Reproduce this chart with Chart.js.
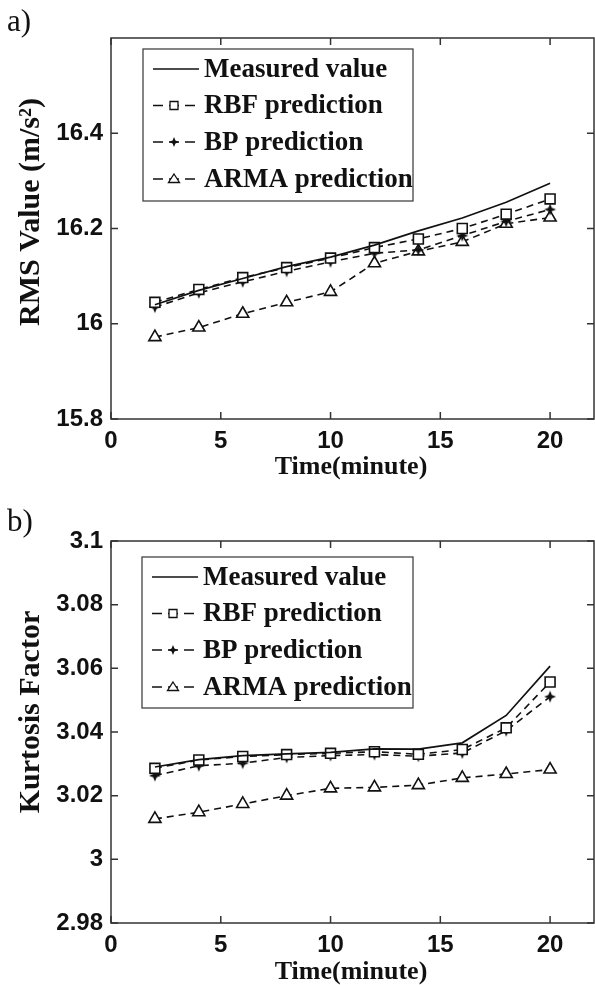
<!DOCTYPE html>
<html>
<head>
<meta charset="utf-8"/>
<title>RMS and kurtosis prediction</title>
<style>
    html, body { margin: 0; padding: 0; background: #fff; overflow: hidden; }
    .panel { position: absolute; left: 0; }
    .tag { position: absolute; left: 7px; font-family: "Liberation Serif", "Times New Roman", serif; font-size: 31px; color: #111; }
</style>
<script src="https://cdn.jsdelivr.net/npm/chart.js@4.4.1/dist/chart.umd.min.js"></script>
</head>
<body>
<canvas id="chartA" class="panel" style="top:0" width="595" height="490"></canvas>
<canvas id="chartB" class="panel" style="top:490px" width="595" height="495"></canvas>
<div class="tag" style="top:3px">a)</div>
<div class="tag" style="top:503px">b)</div>
<script>
    // time axis (minutes)
    const times = [2, 4, 6, 8, 10, 12, 14, 16, 18, 20];
    const xTicks = [0, 5, 10, 15, 20];

    // a) RMS value
    const rmsMeasured = [16.04, 16.07, 16.095, 16.12, 16.14, 16.165, 16.195, 16.222, 16.255, 16.295];
    const rmsRBF      = [16.045, 16.072, 16.097, 16.118, 16.138, 16.16, 16.178, 16.2, 16.23, 16.262];
    const rmsBP       = [16.035, 16.065, 16.088, 16.11, 16.13, 16.148, 16.155, 16.185, 16.215, 16.24];
    const rmsARMA     = [15.972, 15.992, 16.021, 16.045, 16.067, 16.127, 16.152, 16.172, 16.21, 16.223];
    const rmsTicks = [15.8, 16, 16.2, 16.4];

    // b) kurtosis factor
    const kurMeasured = [3.029, 3.0313, 3.0326, 3.0331, 3.0336, 3.0347, 3.0346, 3.0366, 3.0452, 3.0607];
    const kurRBF      = [3.0286, 3.0312, 3.0323, 3.0329, 3.0333, 3.0338, 3.033, 3.0345, 3.0413, 3.0557];
    const kurBP       = [3.0263, 3.0294, 3.0302, 3.032, 3.0326, 3.0329, 3.0324, 3.0334, 3.0404, 3.0511];
    const kurARMA     = [3.0127, 3.0148, 3.0174, 3.02, 3.0223, 3.0226, 3.0233, 3.0256, 3.0268, 3.0282];
    const kurTicks = [2.98, 3, 3.02, 3.04, 3.06, 3.08, 3.1];

    const labels = ['Measured value', 'RBF prediction', 'BP prediction', 'ARMA prediction'];

    const INK = '#111';
    const SERIF = '"Liberation Serif", "Times New Roman", serif';
    const SANS = '"Liberation Sans", Arial, sans-serif';

    // small filled four-point star for the BP marker
    function starImg(r) {
        const c = document.createElement('canvas');
        const s = Math.ceil(2 * r + 2);
        c.width = c.height = s;
        const g = c.getContext('2d');
        g.fillStyle = INK;
        g.beginPath();
        for (let k = 0; k < 8; k++) {
            const ang = k * Math.PI / 4 - Math.PI / 2;
            const rr = k % 2 === 0 ? r : r * 0.4;
            g.lineTo(s / 2 + rr * Math.cos(ang), s / 2 + rr * Math.sin(ang));
        }
        g.closePath();
        g.fill();
        return c;
    }
    const bpStar = starImg(6);
    const bpStarSmall = starImg(5);

    function pts(vals) {
        return vals.map((v, i) => ({ x: times[i], y: v }));
    }

    function makeSets(m, rbf, bp, arma) {
        const dash = [7, 5];
        return [
            { label: labels[0], data: pts(m), borderColor: INK, borderWidth: 1.7, pointRadius: 0 },
            { label: labels[1], data: pts(rbf), borderColor: INK, borderWidth: 1.6, borderDash: dash,
              pointStyle: 'rect', pointRadius: 7, pointBorderWidth: 1.6, pointBackgroundColor: '#fff', pointBorderColor: INK },
            { label: labels[2], data: pts(bp), borderColor: INK, borderWidth: 1.6, borderDash: dash,
              pointStyle: bpStar, pointRadius: 5 },
            { label: labels[3], data: pts(arma), borderColor: INK, borderWidth: 1.6, borderDash: dash,
              pointStyle: 'triangle', pointRadius: 7, pointBorderWidth: 1.6, pointBackgroundColor: '#fff', pointBorderColor: INK },
        ];
    }

    function drawMarker(ctx, ds, x, y) {
        const st = ds.pointStyle;
        if (!ds.pointRadius) return;
        ctx.save();
        ctx.setLineDash([]);
        ctx.lineWidth = 1.3;
        ctx.strokeStyle = INK;
        ctx.fillStyle = '#fff';
        if (st === 'rect') {
            ctx.beginPath(); ctx.rect(x - 4, y - 4, 8, 8); ctx.fill(); ctx.stroke();
        } else if (st === 'triangle') {
            ctx.beginPath(); ctx.moveTo(x, y - 5); ctx.lineTo(x + 5.5, y + 3.5); ctx.lineTo(x - 5.5, y + 3.5);
            ctx.closePath(); ctx.fill(); ctx.stroke();
        } else {
            ctx.drawImage(bpStarSmall, x - bpStarSmall.width / 2, y - bpStarSmall.height / 2);
        }
        ctx.restore();
    }

    // frame with inward ticks, axis titles and the boxed legend
    const framePlugin = {
        id: 'frame',
        afterDatasetsDraw(chart, args, opts) {
            const { ctx, chartArea: a, scales: { x, y } } = chart;
            ctx.save();
            ctx.strokeStyle = '#333';
            ctx.lineWidth = 1.5;
            ctx.setLineDash([]);
            ctx.strokeRect(a.left, a.top, a.right - a.left, a.bottom - a.top);
            ctx.beginPath();
            x.ticks.forEach(t => {
                const px = x.getPixelForValue(t.value);
                ctx.moveTo(px, a.bottom); ctx.lineTo(px, a.bottom - 7);
                ctx.moveTo(px, a.top); ctx.lineTo(px, a.top + 7);
            });
            y.ticks.forEach(t => {
                const py = y.getPixelForValue(t.value);
                ctx.moveTo(a.left, py); ctx.lineTo(a.left + 7, py);
                ctx.moveTo(a.right, py); ctx.lineTo(a.right - 7, py);
            });
            ctx.stroke();

            ctx.fillStyle = INK;
            ctx.textAlign = 'center';
            ctx.textBaseline = 'middle';
            ctx.font = 'bold 26px ' + SERIF;
            ctx.fillText(opts.xTitle, 351, opts.xTitleY);
            ctx.save();
            ctx.translate(31, opts.yTitleY);
            ctx.rotate(-Math.PI / 2);
            ctx.font = 'bold 30px ' + SERIF;
            ctx.fillText(opts.yTitle, 0, 0);
            ctx.restore();

            const lg = opts.legend;
            ctx.fillStyle = '#fff';
            ctx.fillRect(lg.left, lg.top, lg.width, lg.height);
            ctx.strokeStyle = '#444';
            ctx.lineWidth = 1.3;
            ctx.strokeRect(lg.left, lg.top, lg.width, lg.height);
            const rows = [20, 56.5, 93, 130];
            chart.data.datasets.forEach((ds, i) => {
                const yy = lg.top + rows[i];
                ctx.strokeStyle = INK;
                ctx.lineWidth = 1.6;
                ctx.setLineDash(ds.borderDash ? [10, 6] : []);
                ctx.beginPath();
                ctx.moveTo(lg.left + 10, yy);
                ctx.lineTo(lg.left + 56, yy);
                ctx.stroke();
                ctx.setLineDash([]);
                drawMarker(ctx, ds, lg.left + 31, yy);
                ctx.fillStyle = INK;
                ctx.textAlign = 'left';
                ctx.font = 'bold 27px ' + SERIF;
                ctx.fillText(ds.label, lg.left + 61, yy + 1);
            });
            ctx.restore();
        }
    };

    function fmt(v) {
        return String(Math.round(v * 1000) / 1000);
    }

    function makeChart(id, height, plotTop, plotBottom, yMin, yMax, yTicks, sets, frameOpts) {
        const tickFont = { family: SANS, weight: 'bold', size: 24 };
        return new Chart(document.getElementById(id), {
            type: 'line',
            data: { datasets: sets },
            options: {
                responsive: false,
                animation: false,
                layout: { autoPadding: false, padding: { top: plotTop, right: 1, left: 0, bottom: 0 } },
                elements: { line: { tension: 0 } },
                plugins: { legend: { display: false }, tooltip: { enabled: false }, frame: frameOpts },
                scales: {
                    x: {
                        type: 'linear', min: 0, max: 22,
                        afterBuildTicks: s => { s.ticks = xTicks.map(v => ({ value: v })); },
                        afterFit: s => { s.height = height - plotBottom; s.paddingLeft = 0; s.paddingRight = 0; },
                        grid: { display: false, drawTicks: false },
                        border: { display: false },
                        ticks: { font: tickFont, color: INK, padding: 8, maxRotation: 0, autoSkip: false, callback: fmt }
                    },
                    y: {
                        type: 'linear', min: yMin, max: yMax,
                        afterBuildTicks: s => { s.ticks = yTicks.map(v => ({ value: v })); },
                        afterFit: s => { s.width = 111; s.paddingTop = 0; s.paddingBottom = 0; },
                        grid: { display: false, drawTicks: false },
                        border: { display: false },
                        ticks: { font: tickFont, color: INK, padding: 8, autoSkip: false, callback: fmt }
                    }
                }
            },
            plugins: [framePlugin]
        });
    }

    makeChart('chartA', 490, 38, 419, 15.8, 16.6, rmsTicks,
        makeSets(rmsMeasured, rmsRBF, rmsBP, rmsARMA),
        { xTitle: 'Time(minute)', xTitleY: 467, yTitle: 'RMS Value (m/s²)', yTitleY: 212,
          legend: { left: 143, top: 49, width: 270, height: 152 } });

    makeChart('chartB', 495, 51, 433, 2.98, 3.1, kurTicks,
        makeSets(kurMeasured, kurRBF, kurBP, kurARMA),
        { xTitle: 'Time(minute)', xTitleY: 482, yTitle: 'Kurtosis Factor', yTitleY: 222,
          legend: { left: 142, top: 67, width: 271, height: 151 } });
</script>
</body>
</html>
